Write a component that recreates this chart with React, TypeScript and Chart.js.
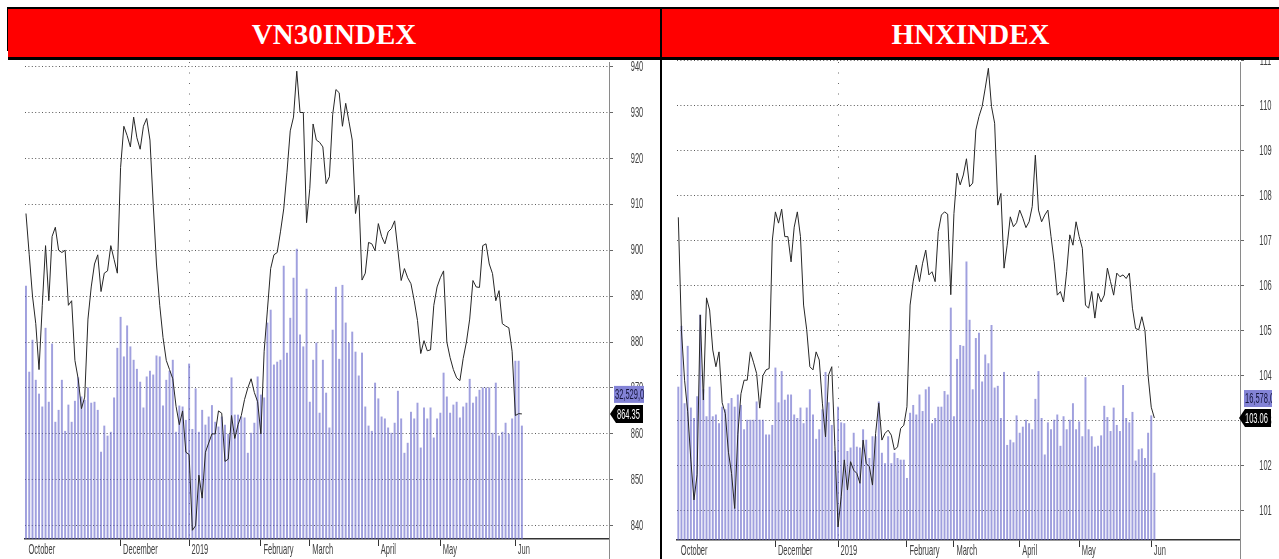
import React, { useEffect, useRef } from 'react';
import { Chart, registerables } from 'chart.js';

Chart.register(...registerables);

// ---------------- data ----------------
const vn30Close: number[] = [
  908, 899, 890, 884, 874, 888, 901, 889, 903, 905,
  900, 899.5, 900, 888, 889, 876, 872, 865.5, 868, 885,
  892, 897, 899, 891, 895, 895.5, 901, 898, 895, 918,
  927, 925, 922.5, 929, 924.5, 922, 927, 928.7, 924, 910,
  897, 888, 881, 876, 874, 872, 866, 862, 865, 856,
  855.5, 839, 840, 851, 846, 856, 858, 860, 860, 865,
  864.5, 854, 854.5, 864, 859, 862, 864, 867.5, 870, 872,
  869, 867, 860, 878, 887, 896, 899, 899.5, 904, 909,
  917, 926, 929, 939, 930, 930, 906, 913.5, 927.5, 924,
  923.5, 922.5, 914.5, 916, 929.5, 935, 934.3, 927, 932, 928,
  924, 908, 912, 893.5, 895, 901.7, 901.4, 899.9, 905.8, 903,
  901.4, 904, 904.7, 906.4, 900, 893.4, 896, 894, 892.7, 889,
  884.7, 877.5, 880.3, 878.1, 878.3, 888, 892, 894, 895.5, 880,
  876.6, 874, 872.2, 871.6, 876.4, 880, 885, 893.4, 892, 891.9,
  901, 901.4, 897, 894.9, 889, 891.2, 884, 883.5, 883.1, 878,
  864, 864.4, 864.35,
];

const vn30Volume: number[] = [
  53.0, 35.0, 41.7, 33.3, 30.4, 27.7, 44.2, 28.7, 40.9, 24.5,
  27.0, 33.3, 22.6, 28.1, 24.5, 28.9, 33.8, 29.8, 29.1, 31.7,
  28.5, 28.7, 27.0, 18.2, 23.7, 21.6, 22.4, 29.6, 40.0, 46.5,
  38.2, 44.7, 40.3, 37.5, 35.6, 32.9, 27.5, 34.0, 35.2, 34.4,
  38.4, 38.2, 27.9, 33.3, 35.2, 37.5, 22.4, 27.9, 27.7, 24.9,
  36.7, 23.0, 31.5, 22.4, 27.0, 23.9, 25.6, 28.0, 24.5, 23.5,
  25.6, 23.9, 22.0, 33.8, 26.0, 26.0, 25.6, 25.4, 18.0, 22.2,
  24.3, 34.0, 30.2, 29.6, 45.3, 48.0, 36.5, 37.1, 37.5, 57.2,
  39.0, 46.3, 54.7, 60.8, 42.8, 40.3, 52.4, 28.7, 37.5, 41.1,
  26.4, 37.5, 30.6, 23.3, 43.8, 52.8, 37.7, 53.2, 45.3, 41.1,
  43.4, 39.2, 34.2, 39.0, 27.7, 23.7, 22.6, 32.7, 29.4, 25.6,
  25.2, 23.3, 22.2, 24.3, 31.0, 25.2, 18.0, 20.1, 26.6, 25.2,
  28.5, 19.1, 27.5, 25.2, 27.5, 21.2, 25.2, 26.4, 34.8, 29.8,
  26.4, 28.1, 28.7, 25.4, 27.7, 28.5, 33.5, 28.5, 29.8, 31.2,
  31.7, 31.7, 31.7, 22.2, 32.7, 21.6, 22.4, 24.3, 22.0, 25.2,
  37.3, 37.3, 23.7,
];

const hnxClose: number[] = [
  107.52, 105.0, 103.9, 103.2, 102.13, 101.24, 101.8, 105.35, 103.46, 105.73,
  105.46, 104.57, 104.2, 104.53, 103.4, 103.16, 102.3, 101.83, 101.05, 102.7,
  103.6, 103.9, 103.9, 104.53, 104.3, 104.05, 103.28, 104.0, 104.13, 104.16,
  107.0, 107.64, 107.39, 107.7, 107.09, 107.09, 106.53, 107.3, 107.64, 107.09,
  105.57, 105.02, 104.2, 104.13, 104.53, 104.35, 103.39, 102.64, 104.02, 104.2,
  102.42, 100.64, 101.31, 102.13, 101.46, 102.09, 101.9, 101.83, 101.61, 102.57,
  102.05, 101.98, 101.57, 102.72, 103.39, 102.57, 102.72, 102.79, 102.68, 102.35,
  102.42, 102.83, 102.9, 103.31, 105.57, 106.1, 106.46, 106.09, 106.5, 106.79,
  106.24, 106.31, 106.09, 107.2, 107.57, 107.64, 107.59, 105.8, 107.6, 108.5,
  108.24, 108.46, 108.82, 108.2, 108.28, 109.46, 109.76, 109.98, 110.39, 110.83,
  109.98, 109.61, 107.79, 108.05, 106.39, 106.9, 107.53, 107.31, 107.4, 107.68,
  107.5, 107.29, 107.42, 107.76, 108.9, 107.68, 107.42, 107.57, 107.68, 107.09,
  106.53, 105.79, 105.87, 105.64, 106.31, 107.13, 106.9, 107.42, 107.09, 106.83,
  105.57, 105.5, 105.87, 105.28, 105.83, 105.64, 105.79, 106.39, 106.09, 105.79,
  106.28, 106.2, 106.24, 106.16, 106.28, 105.5, 105.05, 105.02, 105.31, 105.0,
  104.0, 103.3, 103.06,
];

const hnxVolume: number[] = [
  17.6, 24.6, 15.7, 22.3, 15.2, 14.0, 16.5, 25.9, 17.3, 14.2,
  17.6, 14.2, 14.4, 13.4, 15.3, 15.0, 15.7, 16.3, 15.3, 16.7,
  15.5, 12.7, 13.8, 13.8, 13.8, 15.9, 13.8, 13.8, 12.1, 12.1,
  13.2, 19.8, 15.8, 19.4, 16.1, 16.7, 16.7, 14.4, 14.0, 15.2,
  13.4, 15.2, 17.3, 14.4, 11.6, 12.7, 15.0, 19.3, 15.8, 13.2,
  10.2, 15.3, 13.5, 13.4, 10.2, 10.6, 12.3, 10.7, 10.6, 12.7,
  11.5, 9.4, 11.9, 11.9, 15.9, 10.0, 8.8, 11.9, 8.8, 10.0,
  9.4, 9.2, 9.2, 7.1, 14.6, 15.5, 14.4, 16.7, 14.8, 17.3,
  17.6, 13.4, 14.0, 15.3, 15.3, 17.1, 16.7, 26.7, 14.2, 20.8,
  22.4, 22.3, 32.0, 25.3, 17.3, 23.2, 23.8, 18.2, 21.3, 20.3,
  24.7, 17.5, 17.7, 14.0, 19.3, 10.9, 11.5, 11.2, 14.3, 12.3,
  13.0, 13.8, 13.4, 12.7, 16.2, 19.4, 14.0, 9.8, 13.5, 12.7,
  13.8, 14.4, 10.8, 14.2, 12.7, 13.8, 15.7, 12.7, 13.6, 11.9,
  18.7, 12.7, 11.9, 10.7, 10.8, 12.0, 15.4, 14.1, 12.5, 15.2,
  13.2, 12.5, 17.8, 14.0, 13.5, 14.7, 9.1, 10.4, 10.5, 9.4,
  12.3, 14.3, 7.7,
];

const monthLabels: string[] = ['October', 'December', '2019', 'February', 'March', 'April', 'May', 'Jun'];
const yearBoundaryLabel = '2019';
// trading-day index at which each labelled month starts
const vn30MonthStart: number[] = [0, 29, 50, 72, 87, 108, 127, 150];
const hnxMonthStart: number[] = [0, 31, 51, 73, 88, 109, 128, 151];

const vn30PriceTicks: number[] = [840, 850, 860, 870, 880, 890, 900, 910, 920, 930, 940];
const hnxPriceTicks: number[] = [101, 102, 103, 104, 105, 106, 107, 108, 109, 110, 111];

const vn30Title = 'VN30INDEX';
const hnxTitle = 'HNXINDEX';
const vn30VolumeTag = '32,529,0';
const hnxVolumeTag = '16,578,0';

// ---------------- layout / style ----------------
const PANEL_TOP = 60;
const PANEL_H = 499;
const TICK_FONT = '15px "Liberation Sans", Arial, sans-serif';
const LABEL_COLOR = '#404040';

type PanelCfg = {
  id: string;
  close: number[];
  volume: number[];
  monthStart: number[];
  priceTicks: number[];
  priceMin: number;
  priceMax: number;
  volMax: number;
  xMin: number;
  xMax: number;
  volumeTag: string;
  left: number;
  width: number;
  padLeft: number;
  axisWidth: number;
  xAxisHeight: number;
  labelDx: number;
  tagTip: number;
  tagRight: number;
  volTagL: number;
  volTagW: number;
  textDx: number;
};

const vn30Cfg: PanelCfg = {
  id: 'vn30',
  close: vn30Close,
  volume: vn30Volume,
  monthStart: vn30MonthStart,
  priceTicks: vn30PriceTicks,
  priceMin: 837.1,
  priceMax: 941.0,
  volMax: 100,
  xMin: -0.3,
  xMax: 178.7,
  volumeTag: vn30VolumeTag,
  left: 8,
  width: 652,
  padLeft: 17,
  axisWidth: 51,
  xAxisHeight: 20,
  labelDx: 28,
  tagTip: 1,
  tagRight: 34,
  volTagL: 5,
  volTagW: 30,
  textDx: 7,
};

const hnxCfg: PanelCfg = {
  id: 'hnx',
  close: hnxClose,
  volume: hnxVolume,
  monthStart: hnxMonthStart,
  priceTicks: hnxPriceTicks,
  priceMin: 100.35,
  priceMax: 110.97,
  volMax: 55,
  xMin: -0.42,
  xMax: 179.34,
  volumeTag: hnxVolumeTag,
  left: 662,
  width: 617,
  padLeft: 15,
  axisWidth: 39,
  xAxisHeight: 19,
  labelDx: 25.5,
  tagTip: -1,
  tagRight: 31,
  volTagL: 4,
  volTagW: 28,
  textDx: 6,
};

function drawSquashed(ctx: CanvasRenderingContext2D, text: string, x: number, y: number) {
  ctx.save();
  ctx.translate(x, y);
  ctx.scale(0.5, 1);
  ctx.fillText(text, 0, 0);
  ctx.restore();
}

function makeOverlay(cfg: PanelCfg) {
  return {
    id: 'overlay_' + cfg.id,
    afterDraw(chart: any) {
      const { ctx, chartArea } = chart;
      const xs = chart.scales.x;
      const ys = chart.scales.y;
      const axisX = ys.left;
      ctx.save();
      // right axis continues below the date axis
      const ax = Math.round(axisX - 0.5) + 0.5;
      ctx.strokeStyle = '#8a8a8a';
      ctx.lineWidth = 1;
      ctx.beginPath();
      ctx.moveTo(ax, chartArea.bottom);
      ctx.lineTo(ax, chart.height);
      ctx.stroke();

      ctx.font = TICK_FONT;
      ctx.fillStyle = LABEL_COLOR;
      ctx.textBaseline = 'middle';
      ctx.textAlign = 'left';
      cfg.monthStart.forEach((v, i) => {
        const px = xs.getPixelForValue(v);
        drawSquashed(ctx, monthLabels[i], px + 2.5, chartArea.bottom + 10.5);
      });
      ctx.textAlign = 'center';
      cfg.priceTicks.forEach((t) => {
        drawSquashed(ctx, String(t), axisX + cfg.labelDx, ys.getPixelForValue(t));
      });

      // last value tags
      const last = cfg.close[cfg.close.length - 1];
      const ly = ys.getPixelForValue(last);
      ctx.textAlign = 'left';
      // volume tag
      const vx = axisX + cfg.volTagL;
      ctx.fillStyle = '#8383d6';
      ctx.fillRect(vx, ly - 28, cfg.volTagW, 17);
      ctx.save();
      ctx.beginPath();
      ctx.rect(vx, ly - 28, cfg.volTagW, 17);
      ctx.clip();
      ctx.fillStyle = '#15153d';
      drawSquashed(ctx, cfg.volumeTag, vx + 1, ly - 19.5);
      ctx.restore();
      // price tag
      const tip = axisX + cfg.tagTip;
      const right = axisX + cfg.tagRight;
      ctx.fillStyle = '#000';
      ctx.beginPath();
      ctx.moveTo(tip, ly);
      ctx.lineTo(tip + 6, ly - 9);
      ctx.lineTo(right, ly - 9);
      ctx.lineTo(right, ly + 9);
      ctx.lineTo(tip + 6, ly + 9);
      ctx.closePath();
      ctx.fill();
      ctx.fillStyle = '#fff';
      drawSquashed(ctx, last.toFixed(2), tip + cfg.textDx, ly + 0.5);
      ctx.restore();
    },
  };
}

function PricePanel({ cfg }: { cfg: PanelCfg }) {
  const ref = useRef<HTMLCanvasElement | null>(null);
  useEffect(() => {
    const canvas = ref.current;
    if (!canvas) return;
    const chart = new Chart(canvas, {
      type: 'bar',
      data: {
        datasets: [
          {
            type: 'line',
            data: cfg.close.map((y, i) => ({ x: i, y })),
            xAxisID: 'x',
            yAxisID: 'y',
            borderColor: '#262626',
            borderWidth: 1,
            pointRadius: 0,
            tension: 0,
            fill: false,
            order: 0,
          } as any,
          {
            type: 'bar',
            data: cfg.volume.map((y, i) => ({ x: i, y })),
            xAxisID: 'x',
            yAxisID: 'v',
            backgroundColor: 'rgba(96,96,200,0.6)',
            borderWidth: 0,
            barThickness: 1.3,
            grouped: false,
            order: 1,
          } as any,
        ],
      },
      options: {
        animation: false,
        responsive: false,
        maintainAspectRatio: false,
        devicePixelRatio: 1,
        events: [],
        layout: { padding: { left: cfg.padLeft, top: 2, right: 0, bottom: 0 } },
        plugins: { legend: { display: false }, tooltip: { enabled: false } },
        scales: {
          x: {
            type: 'linear',
            min: cfg.xMin,
            max: cfg.xMax,
            offset: false,
            afterBuildTicks: (s: any) => {
              s.ticks = cfg.monthStart.map((v) => ({ value: v }));
            },
            afterFit: (s: any) => {
              s.height = cfg.xAxisHeight;
            },
            ticks: { display: false, autoSkip: false },
            grid: {
              offset: false,
              drawOnChartArea: true,
              color: (c: any) => (monthLabels[c.index] === yearBoundaryLabel ? '#6a6a6a' : 'rgba(0,0,0,0)'),
              tickColor: (c: any) => (c.index === 0 ? 'rgba(0,0,0,0)' : '#333'),
              tickLength: 7,
              lineWidth: 1,
              tickWidth: 1,
            },
            border: { display: true, color: '#333', width: 1.5, dash: [1, 9.5] },
          },
          y: {
            type: 'linear',
            position: 'right',
            min: cfg.priceMin,
            max: cfg.priceMax,
            afterBuildTicks: (s: any) => {
              s.ticks = cfg.priceTicks.map((v) => ({ value: v }));
            },
            afterFit: (s: any) => {
              s.width = cfg.axisWidth;
            },
            ticks: { display: false },
            grid: { color: '#5a5a5a', tickColor: '#666', tickLength: 4, lineWidth: 1 },
            border: { display: true, color: '#8a8a8a', width: 1, dash: [1, 2.4] },
          },
          v: {
            type: 'linear',
            display: false,
            position: 'left',
            min: 0,
            max: cfg.volMax,
          },
        },
      } as any,
      plugins: [makeOverlay(cfg)],
    });
    return () => chart.destroy();
  }, [cfg]);
  return (
    <canvas
      ref={ref}
      width={cfg.width}
      height={PANEL_H}
      style={{ position: 'absolute', left: cfg.left, top: PANEL_TOP, width: cfg.width, height: PANEL_H }}
    />
  );
}

const titleStyle: React.CSSProperties = {
  position: 'absolute',
  top: 9,
  height: 48,
  lineHeight: '50px',
  textAlign: 'center',
  color: '#fff',
  fontFamily: '"Liberation Serif", "Times New Roman", serif',
  fontWeight: 'bold',
  fontSize: 29,
  whiteSpace: 'nowrap',
};

export default function App() {
  return (
    <div
      style={{
        position: 'fixed',
        left: 0,
        top: 0,
        width: 1279,
        height: 559,
        background: '#fff',
        overflow: 'hidden',
      }}
    >
      <PricePanel cfg={vn30Cfg} />
      <PricePanel cfg={hnxCfg} />
      <div style={{ position: 'absolute', left: 8, top: 9, width: 1271, height: 48, background: '#ff0000' }} />
      <div style={{ position: 'absolute', left: 8, top: 7, width: 1271, height: 2, background: '#000' }} />
      <div style={{ position: 'absolute', left: 8, top: 57, width: 1271, height: 3, background: '#000' }} />
      <div style={{ position: 'absolute', left: 7, top: 7, width: 1, height: 44, background: '#000' }} />
      <div style={{ position: 'absolute', left: 660, top: 7, width: 2, height: 552, background: '#000' }} />
      <div style={{ ...titleStyle, left: 8, width: 652 }}>{vn30Title}</div>
      <div style={{ ...titleStyle, left: 662, width: 617 }}>{hnxTitle}</div>
    </div>
  );
}
